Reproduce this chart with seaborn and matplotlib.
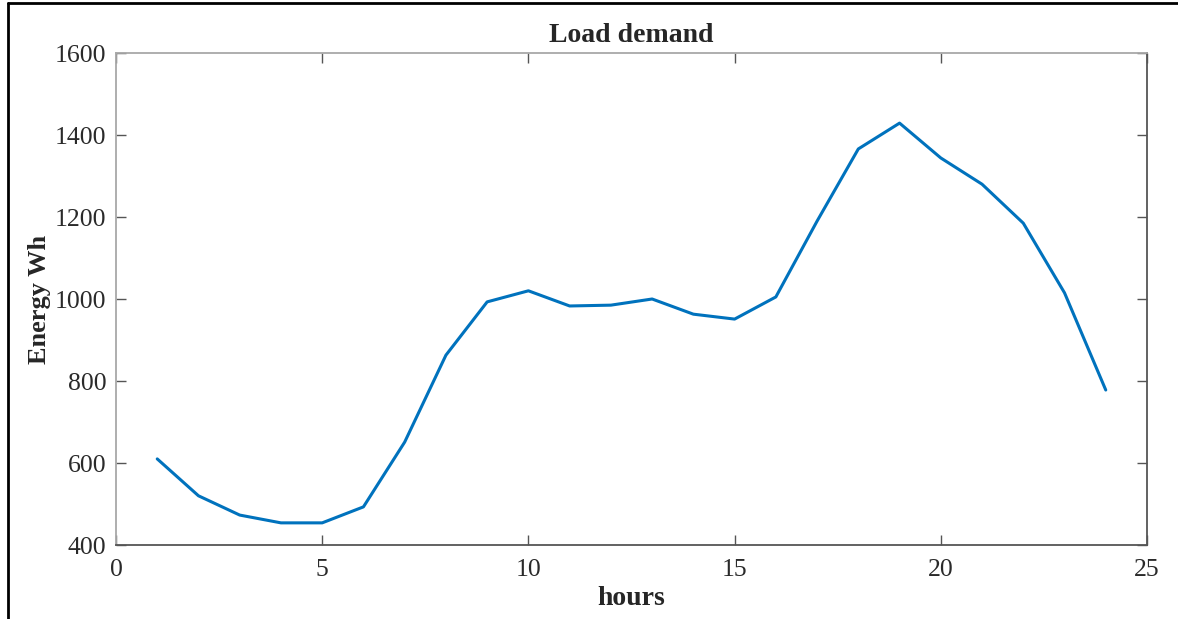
import numpy as np
import pandas as pd
import matplotlib
matplotlib.use("Agg")
import matplotlib.pyplot as plt
import seaborn as sns
from matplotlib.lines import Line2D

# hourly load demand
hours = list(range(1, 25))
energy_wh = [610, 520, 473, 454, 454, 493, 651, 863, 993, 1020, 983, 985,
             1000, 963, 951, 1005, 1190, 1366, 1429, 1344, 1280, 1185, 1015, 778]

df = pd.DataFrame({"hours": hours, "Energy Wh": energy_wh})

sns.set_style("ticks")
plt.rcParams["font.family"] = ["Liberation Serif", "DejaVu Serif"]

fig = plt.figure(figsize=(11.78, 6.19), dpi=100)
ax = fig.add_axes([116 / 1178, 1 - 545 / 619, (1147 - 116) / 1178, (545 - 53) / 619])

sns.lineplot(data=df, x="hours", y="Energy Wh", ax=ax, color="#0072BD", linewidth=2.2)

ax.set_xlim(0, 25)
ax.set_ylim(400, 1600)
ax.set_xticks([0, 5, 10, 15, 20, 25])
ax.set_yticks([400, 600, 800, 1000, 1200, 1400, 1600])
ax.tick_params(direction="in", length=7, width=1, colors="#555555", labelsize=18.5,
               labelcolor="#2a2a2a", top=True, right=True)
ax.tick_params(axis="y", pad=7)
ax.tick_params(axis="x", pad=10)
for side in ["left", "top"]:
    ax.spines[side].set_color("#a8a8a8")
for side in ["bottom", "right"]:
    ax.spines[side].set_color("#555555")
for sp in ax.spines.values():
    sp.set_linewidth(1.3)

ax.set_title("Load demand", fontsize=20, fontweight="bold", pad=8)
ax.set_xlabel("hours", fontsize=20, fontweight="bold", labelpad=4)
ax.set_ylabel("Energy Wh", fontsize=19, fontweight="bold", labelpad=3)

# outer frame of the screenshot (left and top edges)
fig.add_artist(Line2D([8 / 1178, 8 / 1178], [0, 1 - 3 / 619], transform=fig.transFigure,
                      color="black", linewidth=2))
fig.add_artist(Line2D([8 / 1178, 1], [1 - 3 / 619, 1 - 3 / 619], transform=fig.transFigure,
                      color="black", linewidth=2))

fig.savefig("out.png", dpi=100)
plt.close(fig)
